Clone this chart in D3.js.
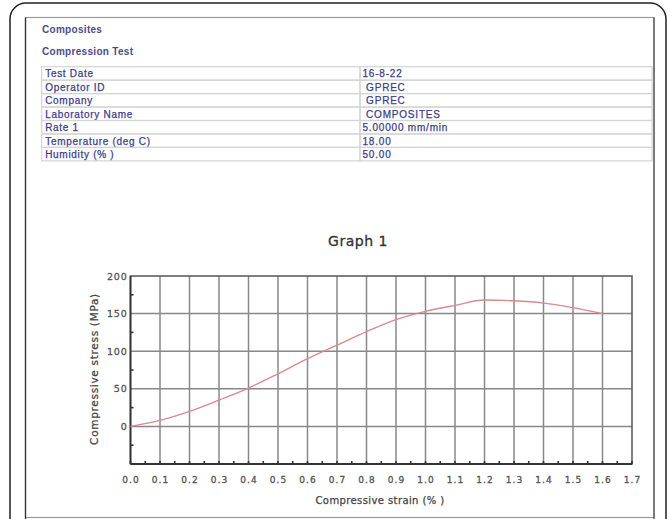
<!DOCTYPE html>
<html>
<head>
<meta charset="utf-8">
<script src="https://cdn.jsdelivr.net/npm/d3@7"></script>
<style>
	body { margin: 0; background: #fff; }
	svg { display: block; }
</style>
</head>
<body>
<script>
	// Report header
	var reportTitle = 'Composites',
		testName = 'Compression Test',
		chartTitle = 'Graph 1';

	// Test info table
	var infoLabels = ['Test Date', 'Operator ID', 'Company', 'Laboratory Name', 'Rate 1', 'Temperature (deg C)', 'Humidity (% )'],
		infoValues = ['16-8-22', ' GPREC', ' GPREC', ' COMPOSITES', '5.00000 mm/min', '18.00', '50.00'];

	// Curve values (strain %, stress MPa)
	var strain = [0.0, 0.1, 0.2, 0.3, 0.4, 0.5, 0.6, 0.7, 0.8, 0.9, 1.0, 1.1, 1.2, 1.3, 1.4, 1.5, 1.6],
		stress = [0, 8, 20, 35, 51, 70, 90, 108, 126, 142, 153, 161, 168, 167, 164, 158, 150];

	// Axis ticks
	var xTicks = [0.0, 0.1, 0.2, 0.3, 0.4, 0.5, 0.6, 0.7, 0.8, 0.9, 1.0, 1.1, 1.2, 1.3, 1.4, 1.5, 1.6, 1.7],
		xMinor = [0.05, 0.15, 0.25, 0.35, 0.45, 0.55, 0.65, 0.75, 0.85, 0.95, 1.05, 1.15, 1.25, 1.35, 1.45, 1.55, 1.65],
		yTicks = [0, 50, 100, 150, 200],
		yMinor = [-25, 25, 75, 125, 175];

	var width = 669, height = 519;

	var svg = d3.select('body').append('svg')
		.attr('width', width)
		.attr('height', height);

	// Outer rounded frame and page box
	svg.append('rect')
		.attr('x', 10).attr('y', 3)
		.attr('width', 656).attr('height', 560)
		.attr('rx', 16).attr('ry', 16)
		.style('fill', 'none')
		.style('stroke', '#222')
		.style('stroke-width', 1.5);

	svg.append('rect')
		.attr('x', 25.5).attr('y', 17.5)
		.attr('width', 628.5).attr('height', 500)
		.style('fill', 'none')
		.style('stroke', '#999')
		.style('stroke-width', 1.2);
	svg.append('line')
		.attr('x1', 25.5).attr('x2', 25.5)
		.attr('y1', 17.5).attr('y2', 519)
		.style('stroke', '#333')
		.style('stroke-width', 1.3);
	svg.append('line')
		.attr('x1', 654).attr('x2', 654)
		.attr('y1', 17.5).attr('y2', 519)
		.style('stroke', '#555')
		.style('stroke-width', 1.3);

	// Header texts
	var headFont = '"Liberation Sans", Arial, sans-serif',
		navy = '#3d3d8a';
	svg.append('text')
		.attr('x', 42).attr('y', 29.5)
		.attr('dominant-baseline', 'central')
		.style('font-family', headFont)
		.style('font-size', '10px')
		.style('font-weight', 'bold')
		.style('letter-spacing', '0.3px')
		.style('fill', '#4b4b8c')
		.text(reportTitle);
	svg.append('text')
		.attr('x', 42).attr('y', 51)
		.attr('dominant-baseline', 'central')
		.style('font-family', headFont)
		.style('font-size', '10px')
		.style('font-weight', 'bold')
		.style('letter-spacing', '0.3px')
		.style('fill', '#4b4b8c')
		.text(testName);

	// Info table
	var tableTop = 66.7, rowH = 13.45,
		colX = [41.7, 360, 652];
	var rows = svg.append('g').attr('class', 'info-table')
		.selectAll('g.row')
		.data(infoLabels)
		.enter().append('g')
		.attr('class', 'row')
		.attr('transform', function(d, i) { return 'translate(0,' + (tableTop + i * rowH) + ')'; });

	rows.append('rect')
		.attr('x', colX[0]).attr('y', 0)
		.attr('width', colX[1] - colX[0]).attr('height', rowH)
		.style('fill', 'none').style('stroke', '#d4d4d4').style('stroke-width', 1.2);
	rows.append('rect')
		.attr('x', colX[1]).attr('y', 0)
		.attr('width', colX[2] - colX[1]).attr('height', rowH)
		.style('fill', 'none').style('stroke', '#d4d4d4').style('stroke-width', 1.2);
	rows.append('text')
		.attr('x', colX[0] + 3.5).attr('y', rowH / 2 + 0.5)
		.attr('dominant-baseline', 'central')
		.style('font-family', headFont)
		.style('font-size', '10px')
		.style('letter-spacing', '0.7px')
		.style('fill', navy)
		.style('stroke', navy)
		.style('stroke-width', 0.25)
		.text(function(d) { return d; });
	rows.append('text')
		.attr('x', colX[1] + 2.5).attr('y', rowH / 2 + 0.5)
		.attr('dominant-baseline', 'central')
		.attr('xml:space', 'preserve')
		.style('white-space', 'pre')
		.style('font-family', headFont)
		.style('font-size', '10px')
		.style('letter-spacing', '0.8px')
		.style('fill', navy)
		.style('stroke', navy)
		.style('stroke-width', 0.25)
		.text(function(d, i) { return infoValues[i]; });

	// Graph
	var x = d3.scaleLinear().domain([0, 1.7]).range([130.5, 632]),
		y = d3.scaleLinear().domain([-50, 200]).range([464, 276]);

	var axisFont = '"DejaVu Sans", Verdana, sans-serif',
		labelGrey = '#555';
	var g = svg.append('g').attr('class', 'graph');

	svg.append('text')
		.attr('x', 358).attr('y', 241)
		.attr('text-anchor', 'middle')
		.attr('dominant-baseline', 'central')
		.style('font-family', axisFont)
		.style('font-size', '14px')
		.style('letter-spacing', '0.5px')
		.style('fill', '#333')
		.style('stroke', '#333')
		.style('stroke-width', 0.3)
		.text(chartTitle);

	// Grid
	g.selectAll('.vgrid')
		.data(xTicks.slice(1, -1))
		.enter().append('line')
		.attr('class', 'vgrid')
		.attr('x1', function(d) { return x(d); })
		.attr('x2', function(d) { return x(d); })
		.attr('y1', y(200)).attr('y2', y(-50))
		.style('stroke', '#888')
		.style('stroke-width', 1.5);
	g.selectAll('.hgrid')
		.data(yTicks.slice(0, -1))
		.enter().append('line')
		.attr('class', 'hgrid')
		.attr('x1', x(0)).attr('x2', x(1.7))
		.attr('y1', function(d) { return y(d); })
		.attr('y2', function(d) { return y(d); })
		.style('stroke', '#888')
		.style('stroke-width', 1.5);

	// Frame
	g.append('rect')
		.attr('x', x(0)).attr('y', y(200))
		.attr('width', x(1.7) - x(0)).attr('height', y(-50) - y(200))
		.style('fill', 'none')
		.style('stroke', '#555')
		.style('stroke-width', 1.5);
	g.append('line')
		.attr('x1', x(0)).attr('x2', x(1.7))
		.attr('y1', y(-50)).attr('y2', y(-50))
		.style('stroke', '#333')
		.style('stroke-width', 1.8);
	g.append('line')
		.attr('x1', x(0)).attr('x2', x(0))
		.attr('y1', y(200)).attr('y2', y(-50))
		.style('stroke', '#333')
		.style('stroke-width', 1.8);

	// Minor ticks
	g.selectAll('.xminor')
		.data(xMinor.concat(xTicks))
		.enter().append('line')
		.attr('class', 'xminor')
		.attr('x1', function(d) { return x(d); })
		.attr('x2', function(d) { return x(d); })
		.attr('y1', y(-50) - 3).attr('y2', y(-50))
		.style('stroke', '#333')
		.style('stroke-width', 1.6);
	g.selectAll('.yminor')
		.data(yMinor)
		.enter().append('line')
		.attr('class', 'yminor')
		.attr('x1', x(0)).attr('x2', x(0) + 3)
		.attr('y1', function(d) { return y(d); })
		.attr('y2', function(d) { return y(d); })
		.style('stroke', '#333')
		.style('stroke-width', 1.6);

	// Tick labels
	g.selectAll('.xlabel')
		.data(xTicks)
		.enter().append('text')
		.attr('class', 'xlabel')
		.attr('x', function(d) { return x(d) + 0.5; })
		.attr('y', 480)
		.attr('text-anchor', 'middle')
		.attr('dominant-baseline', 'central')
		.style('font-family', axisFont)
		.style('font-size', '9px')
		.style('letter-spacing', '1px')
		.style('fill', labelGrey)
		.style('stroke', labelGrey)
		.style('stroke-width', 0.3)
		.text(function(d) { return d3.format('.1f')(d); });
	g.selectAll('.ylabel')
		.data(yTicks)
		.enter().append('text')
		.attr('class', 'ylabel')
		.attr('x', x(0) - 3)
		.attr('y', function(d) { return y(d); })
		.attr('text-anchor', 'end')
		.attr('dominant-baseline', 'central')
		.style('font-family', axisFont)
		.style('font-size', '9.5px')
		.style('letter-spacing', '0.8px')
		.style('fill', labelGrey)
		.style('stroke', labelGrey)
		.style('stroke-width', 0.3)
		.text(function(d) { return d; });

	// Axis titles
	svg.append('text')
		.attr('x', 380).attr('y', 500)
		.attr('text-anchor', 'middle')
		.attr('dominant-baseline', 'central')
		.style('font-family', axisFont)
		.style('font-size', '10px')
		.style('letter-spacing', '0.4px')
		.style('fill', '#444')
		.style('stroke', '#444')
		.style('stroke-width', 0.25)
		.text('Compressive strain (% )');
	svg.append('text')
		.attr('transform', 'translate(94,369) rotate(-90)')
		.attr('text-anchor', 'middle')
		.attr('dominant-baseline', 'central')
		.style('font-family', axisFont)
		.style('font-size', '10.5px')
		.style('letter-spacing', '0.7px')
		.style('fill', '#444')
		.style('stroke', '#444')
		.style('stroke-width', 0.25)
		.text('Compressive stress (MPa)');

	// Curve
	var line = d3.line()
		.x(function(d) { return x(d); })
		.y(function(d, i) { return y(stress[i]); })
		.curve(d3.curveMonotoneX);

	g.append('path')
		.datum(strain)
		.attr('d', line)
		.style('fill', 'none')
		.style('stroke', '#d98a8f')
		.style('stroke-width', 1.4);
</script>
</body>
</html>
